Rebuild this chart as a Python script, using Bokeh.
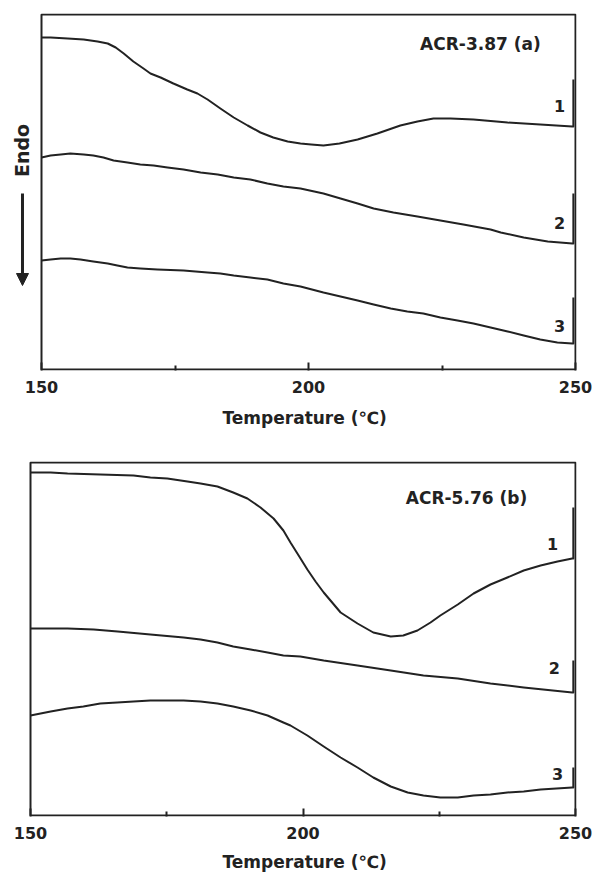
from bokeh.plotting import figure
from bokeh.layouts import column
from bokeh.models import Range1d, FixedTicker, Label, Arrow, NormalHead, Title
from bokeh.embed import file_html
from bokeh.resources import INLINE

# ---------------- data (arbitrary heat-flow units) -------------
# Panel (a) ACR-3.87 ; the last two points of each run are the vertical return at the end
a1_T = [150, 151.7, 154.9, 157.9, 160.5, 162.4, 163.9, 165.4, 167.2, 169.1,
        170.4, 172.3, 174.7, 177.3, 179.2, 181.1, 183.5, 186.0, 188.6, 191.0,
        193.4, 196.1, 198.5, 200.5, 202.8, 205.8, 209.2, 212.9, 217.2, 220.4,
        223.4, 226.6, 230.9, 237.3, 243.4, 249.4, 249.6, 249.6]
a1_y = [332, 332, 331, 330, 328, 326, 322, 316, 308, 301,
        296, 292, 286, 280, 276, 270, 261, 252, 244, 237,
        232, 228, 226, 225, 224, 226, 230, 236, 244, 248,
        251, 251, 250, 247, 245, 243, 243, 290]
a2_T = [150, 151.7, 153.6, 155.4, 157.9, 159.7, 161.6, 163.5, 166.1, 168.5,
        171.0, 173.6, 176.6, 179.8, 183.0, 186.0, 189.1, 192.3, 195.3, 198.5,
        202.8, 206.0, 209.2, 212.2, 215.9, 220.4, 224.7, 229.0, 234.1, 236.0,
        240.3, 244.8, 249.4, 249.6, 249.6]
a2_y = [212, 214, 215, 216, 215, 214, 212, 209, 207, 205,
        204, 202, 200, 197, 195, 192, 190, 186, 183, 181,
        176, 171, 166, 161, 157, 153, 149, 145, 140, 137,
        132, 128, 126, 126, 176]
a3_T = [150, 151.7, 153.6, 155.4, 157.3, 159.7, 162.4, 164.2, 166.1, 168.5,
        171.7, 176.6, 181.1, 183.5, 186.0, 189.1, 192.3, 195.3, 198.5, 202.8,
        206.0, 209.2, 212.2, 215.4, 218.5, 221.5, 224.7, 227.9, 230.9, 234.1,
        237.3, 240.3, 243.4, 246.6, 249.4, 249.6, 249.6]
a3_y = [109, 110, 111, 111, 110, 108, 106, 104, 102, 101,
        100, 99, 97, 96, 94, 92, 90, 86, 83, 77,
        73, 69, 65, 61, 58, 56, 52, 49, 46, 42,
        38, 34, 30, 27, 26, 26, 72]

# Panel (b) ACR-5.76
b1_T = [150, 153.7, 156.8, 162.8, 168.9, 172.0, 175.1, 178.8, 181.2, 184.3,
        187.2, 189.8, 192.2, 194.6, 196.4, 197.7, 199.2, 200.8, 202.3, 203.8,
        206.9, 210.0, 212.9, 216.1, 218.4, 221.0, 223.4, 225.2, 228.4, 231.3,
        234.4, 237.5, 240.5, 243.6, 246.7, 249.4, 249.6, 249.6]
b1_y = [343, 343, 342, 341, 340, 338, 337, 334, 332, 329,
        323, 317, 308, 297, 285, 273, 260, 246, 234, 223,
        203, 192, 183, 179, 180, 185, 193, 200, 211, 222,
        231, 238, 245, 250, 254, 257, 257, 308]
b2_T = [150, 156.8, 161.6, 166.0, 172.0, 178.1, 181.2, 184.3, 187.2, 190.4,
        193.5, 196.4, 199.5, 203.8, 210.0, 216.1, 222.1, 228.4, 234.4, 240.5,
        249.4, 249.6, 249.6]
b2_y = [187, 187, 186, 184, 181, 178, 176, 173, 169, 166,
        163, 160, 159, 155, 150, 145, 140, 137, 132, 128,
        123, 123, 155]
b3_T = [150, 153.7, 156.8, 159.7, 162.8, 165.9, 168.9, 172.0, 175.1, 178.1,
        181.2, 184.3, 187.2, 190.4, 193.5, 196.4, 197.7, 200.8, 203.8, 206.9,
        210.0, 212.9, 216.1, 219.2, 222.1, 225.2, 228.4, 231.3, 234.4, 237.5,
        240.5, 243.6, 249.4, 249.6, 249.6]
b3_y = [100, 104, 107, 109, 112, 113, 114, 115, 115, 115,
        114, 112, 109, 105, 100, 93, 90, 80, 69, 58,
        48, 38, 29, 23, 20, 18, 18, 20, 21, 23,
        24, 26, 28, 28, 48]

x_ticks = [150, 200, 250]
x_minor = [175, 225]
x_label = "Temperature (\u2103)"
curve_ids = ["1", "2", "3"]
T_MIN, T_MAX = 150, 250

INK = "#222222"
FONT = "DejaVu Sans"


def make_panel(left_px, top, bottom, ymax, series, title, title_pos, id_pos,
               label_standoff, xlabel_standoff, xlabel_offset):
    # The frame spans the full width from the canvas edge so that texts in the
    # left margin (Endo label, arrow) are inside it; the visible box is drawn
    # as a quad over the data extent.
    width = 592
    right_border = 16
    frame_w = width - right_border
    px_per_unit = (575 - left_px) / (T_MAX - T_MIN)
    x0 = T_MIN - left_px / px_per_unit
    x1 = x0 + frame_w / px_per_unit
    p = figure(width=width, height=440, output_backend="svg", toolbar_location=None,
               x_range=Range1d(x0, x1), y_range=Range1d(-1, ymax + 1),
               y_axis_location=None,
               min_border_left=0, min_border_right=right_border,
               min_border_top=top - 1, min_border_bottom=bottom - 1)
    p.grid.visible = False
    p.outline_line_color = None
    ax = p.xaxis[0]
    ax.ticker = FixedTicker(ticks=x_ticks, minor_ticks=x_minor)
    ax.axis_line_color = None
    ax.major_tick_in = 8
    ax.major_tick_out = 0
    ax.minor_tick_in = 5
    ax.minor_tick_out = 0
    ax.major_tick_line_color = INK
    ax.major_tick_line_width = 2
    ax.minor_tick_line_color = INK
    ax.minor_tick_line_width = 2
    ax.major_label_text_font = FONT
    ax.major_label_text_font_style = "bold"
    ax.major_label_text_font_size = "16px"
    ax.major_label_text_color = INK
    ax.major_label_standoff = label_standoff

    # x-axis title, centred under the plot box (not under the widened frame)
    p.add_layout(Title(text=x_label, align="left", offset=xlabel_offset,
                       standoff=xlabel_standoff,
                       text_font=FONT, text_font_style="bold", text_font_size="17px",
                       text_color=INK), "below")

    # plot box
    p.quad(left=[T_MIN], right=[T_MAX], bottom=[0], top=[ymax],
           fill_color=None, line_color=INK, line_width=2)

    for (T, y) in series:
        p.line(T, y, line_color=INK, line_width=2, line_join="round")

    p.add_layout(Label(x=title_pos[0], y=title_pos[1], text=title,
                       text_font=FONT, text_font_style="bold", text_font_size="17px",
                       text_color=INK, text_align="center", text_baseline="middle"))
    for cid, (tx, ty) in zip(curve_ids, id_pos):
        p.add_layout(Label(x=tx, y=ty, text=cid,
                           text_font=FONT, text_font_style="bold", text_font_size="16px",
                           text_color=INK, text_align="center", text_baseline="middle"))
    return p


p1 = make_panel(41, 14, 71, 355,
                [(a1_T, a1_y), (a2_T, a2_y), (a3_T, a3_y)],
                "ACR-3.87 (a)", (232.2, 326),
                [(247.0, 264), (247.0, 147), (247.0, 44)], 10, 20, 222)

# "Endo" label with downward arrow, in the left margin of panel (a)
p1.add_layout(Label(x=146.44, y=219, text="Endo", angle=1.5708,
                    text_font=FONT, text_font_style="bold", text_font_size="19px",
                    text_color=INK, text_align="center", text_baseline="middle"))
p1.add_layout(Arrow(x_start=146.44, y_start=176, x_end=146.44, y_end=84,
                    line_color=INK, line_width=3,
                    end=NormalHead(size=12, fill_color=INK, line_color=INK, line_width=1)))

p2 = make_panel(30, 22, 65, 353,
                [(b1_T, b1_y), (b2_T, b2_y), (b3_T, b3_y)],
                "ACR-5.76 (b)", (230.0, 318),
                [(245.8, 272), (246.1, 148), (246.7, 42)], 10, 16, 222)

layout = column(p1, p2, spacing=0)
open("out.html", "w").write(file_html(layout, INLINE))
